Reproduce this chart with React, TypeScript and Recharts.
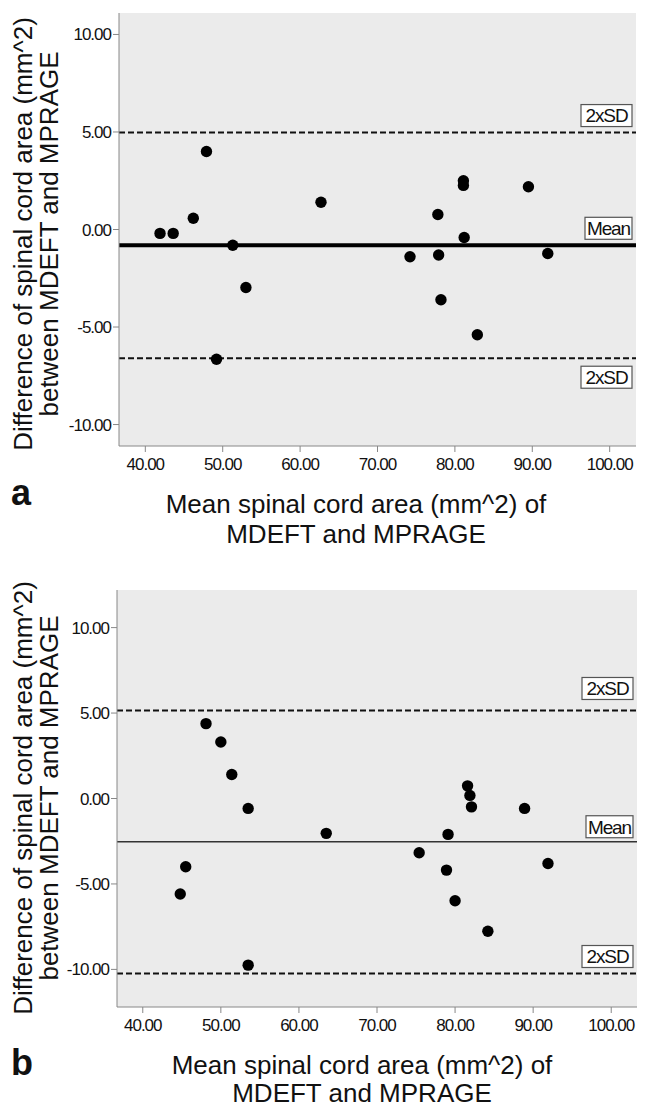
import React from "react";
import {
  ScatterChart,
  Scatter,
  XAxis,
  YAxis,
  CartesianGrid,
  ReferenceLine,
} from "recharts";

// panel a: MDEFT vs MPRAGE
const meanA = [41.9, 43.6, 46.2, 47.9, 49.2, 51.3, 53.0, 62.7, 74.2, 77.8, 77.9, 78.2, 81.1, 81.1, 81.2, 82.9, 89.5, 92.0];
const diffA = [-0.2, -0.2, 0.58, 4.0, -6.65, -0.81, -2.97, 1.4, -1.4, 0.77, -1.31, -3.6, 2.5, 2.26, -0.41, -5.4, 2.19, -1.23];
const linesA = { mean: -0.81, upper: 4.97, lower: -6.6 };

// panel b
const meanB = [44.8, 45.5, 48.1, 50.0, 51.4, 53.5, 53.5, 63.5, 75.4, 78.9, 79.1, 80.0, 81.6, 81.9, 82.1, 84.2, 88.9, 91.9];
const diffB = [-5.59, -3.99, 4.38, 3.31, 1.4, -0.58, -9.75, -2.04, -3.17, -4.19, -2.1, -5.98, 0.74, 0.18, -0.49, -7.77, -0.58, -3.8];
const linesB = { mean: -2.53, upper: 5.15, lower: -10.24 };

const xTicks = [40, 50, 60, 70, 80, 90, 100];
const yTicks = [-10, -5, 0, 5, 10];

const FONT = "'Liberation Sans', Arial, Helvetica, sans-serif";

const toPoints = (xs: number[], ys: number[]) =>
  xs.map((x, i) => ({ x, y: ys[i] }));

// boxed "2xSD" / "Mean" tag at the right end of a reference line
const BoxLabel = (props: any) => {
  const { viewBox, text, place, gap } = props;
  if (!viewBox) return null;
  const w = text === "Mean" ? 47 : 51;
  const h = 22;
  const right = viewBox.x + viewBox.width - 4;
  const y = place === "above" ? viewBox.y - gap - h : viewBox.y + gap;
  return (
    <g>
      <rect x={right - w} y={y} width={w} height={h} fill="#fff" stroke="#555" strokeWidth={1.2} />
      <text
        x={right - w / 2}
        y={y + h / 2}
        dy="0.36em"
        textAnchor="middle"
        fontSize={19}
        fontFamily={FONT}
        letterSpacing={-1.1}
        fill="#111"
      >
        {text}
      </text>
    </g>
  );
};

const dot = (p: any) => <circle cx={p.cx} cy={p.cy} r={5.7} fill="#000" />;

const tickStyle = {
  fontSize: 17,
  fill: "#111",
  fontFamily: FONT,
  letterSpacing: -1,
};

function BlandAltman({
  xs,
  ys,
  lines,
  width,
  height,
  margin,
  yAxisWidth,
  xDomain,
  yDomain,
  meanWidth,
  meanColor,
  gaps,
  lowerPlace,
}: any) {
  const data = toPoints(xs, ys);
  return (
    <ScatterChart width={width} height={height} margin={margin}>
      <CartesianGrid fill="#ebebeb" horizontal={false} vertical={false} stroke="none" />
      <XAxis
        type="number"
        dataKey="x"
        domain={xDomain}
        ticks={xTicks}
        allowDataOverflow
        height={30}
        tickSize={6}
        tickMargin={6}
        stroke="#888"
        tick={tickStyle}
        tickFormatter={(v: number) => v.toFixed(2)}
      />
      <YAxis
        type="number"
        dataKey="y"
        domain={yDomain}
        ticks={yTicks}
        allowDataOverflow
        width={yAxisWidth}
        tickSize={6}
        tickMargin={2}
        stroke="#888"
        tick={tickStyle}
        tickFormatter={(v: number) => v.toFixed(2)}
      />
      <ReferenceLine
        y={lines.upper}
        stroke="#111"
        strokeWidth={2}
        strokeDasharray="6 3"
        label={<BoxLabel text="2xSD" place="above" gap={gaps[0]} />}
      />
      <ReferenceLine
        y={lines.mean}
        stroke={meanColor}
        strokeWidth={meanWidth}
        label={<BoxLabel text="Mean" place="above" gap={gaps[1]} />}
      />
      <ReferenceLine
        y={lines.lower}
        stroke="#111"
        strokeWidth={2}
        strokeDasharray="6 3"
        label={<BoxLabel text="2xSD" place={lowerPlace} gap={gaps[2]} />}
      />
      <Scatter data={data} fill="#000" shape={dot} isAnimationActive={false} />
    </ScatterChart>
  );
}

function Titles({ cy, x1, x2, xc, letter, letterY }: any) {
  return (
    <g fontFamily={FONT} fill="#111">
      <text x={32} y={cy} fontSize={26} textAnchor="middle" transform={`rotate(-90, 32, ${cy})`}>
        Difference of spinal cord area (mm^2)
      </text>
      <text x={58} y={cy} fontSize={26} textAnchor="middle" transform={`rotate(-90, 58, ${cy})`}>
        between MDEFT and MPRAGE
      </text>
      <text x={xc} y={x1} fontSize={26} textAnchor="middle">
        Mean spinal cord area (mm^2) of
      </text>
      <text x={xc} y={x2} fontSize={26} textAnchor="middle">
        MDEFT and MPRAGE
      </text>
      <text x={11} y={letterY} fontSize={36} fontWeight="bold">
        {letter}
      </text>
    </g>
  );
}

export default function App() {
  return (
    <div style={{ position: "absolute", left: 0, top: 0, width: 646, height: 1109, background: "#fff" }}>
      <div style={{ position: "absolute", left: 0, top: 0 }}>
        <BlandAltman
          xs={meanA}
          ys={diffA}
          lines={linesA}
          width={646}
          height={560}
          margin={{ top: 13, right: 10, bottom: 84, left: 0 }}
          yAxisWidth={119}
          xDomain={[36.6, 103.4]}
          yDomain={[-11.1, 11.1]}
          meanWidth={4}
          meanColor="#000"
          gaps={[6, 6, 8]}
          lowerPlace="below"
        />
      </div>
      <div style={{ position: "absolute", left: 0, top: 560 }}>
        <BlandAltman
          xs={meanB}
          ys={diffB}
          lines={linesB}
          width={646}
          height={549}
          margin={{ top: 30, right: 9, bottom: 72, left: 0 }}
          yAxisWidth={117}
          xDomain={[36.7, 103.3]}
          yDomain={[-12.2, 12.2]}
          meanWidth={1.5}
          meanColor="#333"
          gaps={[11, 4, 6]}
          lowerPlace="above"
        />
      </div>
      <svg
        width={646}
        height={1109}
        style={{ position: "absolute", left: 0, top: 0, pointerEvents: "none" }}
      >
        <Titles cy={234} x1={513} x2={543} xc={356} letter="a" letterY={505} />
        <Titles cy={798} x1={1074} x2={1102} xc={362} letter="b" letterY={1075} />
      </svg>
    </div>
  );
}
